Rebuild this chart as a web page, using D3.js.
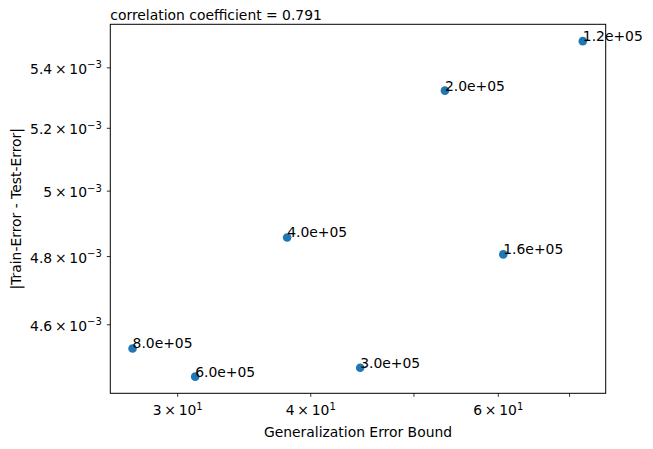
<!DOCTYPE html>
<html>
<head>
<meta charset="utf-8">
<script src="https://cdn.jsdelivr.net/npm/d3@7"></script>
<style>
  body { margin: 0; background: #fff; }
  svg, svg text { font-family: 'DejaVu Sans', sans-serif; }
  svg { display: block; }
</style>
</head>
<body>
<div class="container"></div>
<script>
const sampleSizes = ['8.0e+05', '6.0e+05', '4.0e+05', '3.0e+05', '1.2e+05', '2.0e+05', '1.6e+05'];
const errorBounds = [27.24, 31.19, 38.05, 44.56, 72.11, 53.52, 60.72];
const errorGaps = [4.531e-3, 4.452e-3, 4.856e-3, 4.477e-3, 5.489e-3, 5.322e-3, 4.805e-3];
const xTicks = [30, 40, 50, 60, 70];
const xTickLabels = [['3', '1'], ['4', '1'], null, ['6', '1'], null];
const yTicks = [4.6e-3, 4.8e-3, 5.0e-3, 5.2e-3, 5.4e-3];
const yTickLabels = [['4.6', '\u22123'], ['4.8', '\u22123'], ['5', '\u22123'], ['5.2', '\u22123'], ['5.4', '\u22123']];

const width = 653;
const height = 449;
const plot = { left: 110.3, right: 605.7, top: 24.3, bottom: 393.3 };
const fontSize = 13.9;

const svg = d3
  .select('.container')
  .append('svg')
  .attr('width', width)
  .attr('height', height);

const xScale = d3
  .scaleLog()
  .domain([25.96, 75.77])
  .range([plot.left, plot.right]);

const yScale = d3
  .scaleLog()
  .domain([4.406e-3, 5.547e-3])
  .range([plot.bottom, plot.top]);

// mantissa x 10^exp as text with a raised exponent
const sciLabel = (sel, parts) => {
  sel.append('tspan').text(parts[0] + '\u2009\u00d7\u200910');
  sel
    .append('tspan')
    .attr('dy', -5.5)
    .style('font-size', '10px')
    .text(parts[1]);
};

const xAxis = d3.axisBottom(xScale).tickValues(xTicks).tickFormat('').tickSize(3.5).tickSizeOuter(0);
const yAxis = d3.axisLeft(yScale).tickValues(yTicks).tickFormat('').tickSize(3.5).tickSizeOuter(0);

const gx = svg
  .append('g')
  .attr('id', 'x-axis')
  .attr('transform', `translate(0, ${plot.bottom})`)
  .call(xAxis)
  .attr('font-family', null)
  .attr('font-size', null);
gx.select('.domain').remove();
gx.selectAll('.tick line').attr('stroke', '#000').attr('stroke-width', 0.8);
gx.selectAll('.tick').each(function (d, i) {
  if (!xTickLabels[i]) return;
  const t = d3
    .select(this)
    .append('text')
    .attr('y', 22)
    .attr('fill', '#000')
    .attr('text-anchor', 'middle')
    .style('font-size', fontSize + 'px');
  sciLabel(t, xTickLabels[i]);
});

const gy = svg
  .append('g')
  .attr('id', 'y-axis')
  .attr('transform', `translate(${plot.left}, 0)`)
  .call(yAxis)
  .attr('font-family', null)
  .attr('font-size', null);
gy.select('.domain').remove();
gy.selectAll('.tick line').attr('stroke', '#000').attr('stroke-width', 0.8);
gy.selectAll('.tick').each(function (d, i) {
  const t = d3
    .select(this)
    .append('text')
    .attr('x', -8.5)
    .attr('y', 6)
    .attr('fill', '#000')
    .attr('text-anchor', 'end')
    .style('font-size', fontSize + 'px');
  sciLabel(t, yTickLabels[i]);
});

svg
  .append('rect')
  .attr('x', plot.left)
  .attr('y', plot.top)
  .attr('width', plot.right - plot.left)
  .attr('height', plot.bottom - plot.top)
  .attr('fill', 'none')
  .attr('stroke', '#000')
  .attr('stroke-width', 1);

svg
  .append('g')
  .attr('id', 'points')
  .selectAll('circle')
  .data(errorBounds)
  .enter()
  .append('circle')
  .attr('cx', (d) => xScale(d))
  .attr('cy', (d, i) => yScale(errorGaps[i]))
  .attr('r', 4.3)
  .attr('fill', '#1f77b4');

svg
  .append('g')
  .attr('id', 'labels')
  .selectAll('text')
  .data(sampleSizes)
  .enter()
  .append('text')
  .attr('x', (d, i) => xScale(errorBounds[i]))
  .attr('y', (d, i) => yScale(errorGaps[i]))
  .style('font-size', fontSize + 'px')
  .attr('fill', '#000')
  .text((d) => d);

svg
  .append('text')
  .attr('x', plot.left)
  .attr('y', plot.top - 4)
  .style('font-size', fontSize + 'px')
  .text('correlation coefficient = 0.791');

svg
  .append('text')
  .attr('x', (plot.left + plot.right) / 2)
  .attr('y', 437)
  .attr('text-anchor', 'middle')
  .style('font-size', fontSize + 'px')
  .text('Generalization Error Bound');

svg
  .append('text')
  .attr('transform', `translate(21, ${(plot.top + plot.bottom) / 2}) rotate(-90)`)
  .attr('text-anchor', 'middle')
  .style('font-size', fontSize + 'px')
  .text('|Train-Error - Test-Error|');
</script>
</body>
</html>
